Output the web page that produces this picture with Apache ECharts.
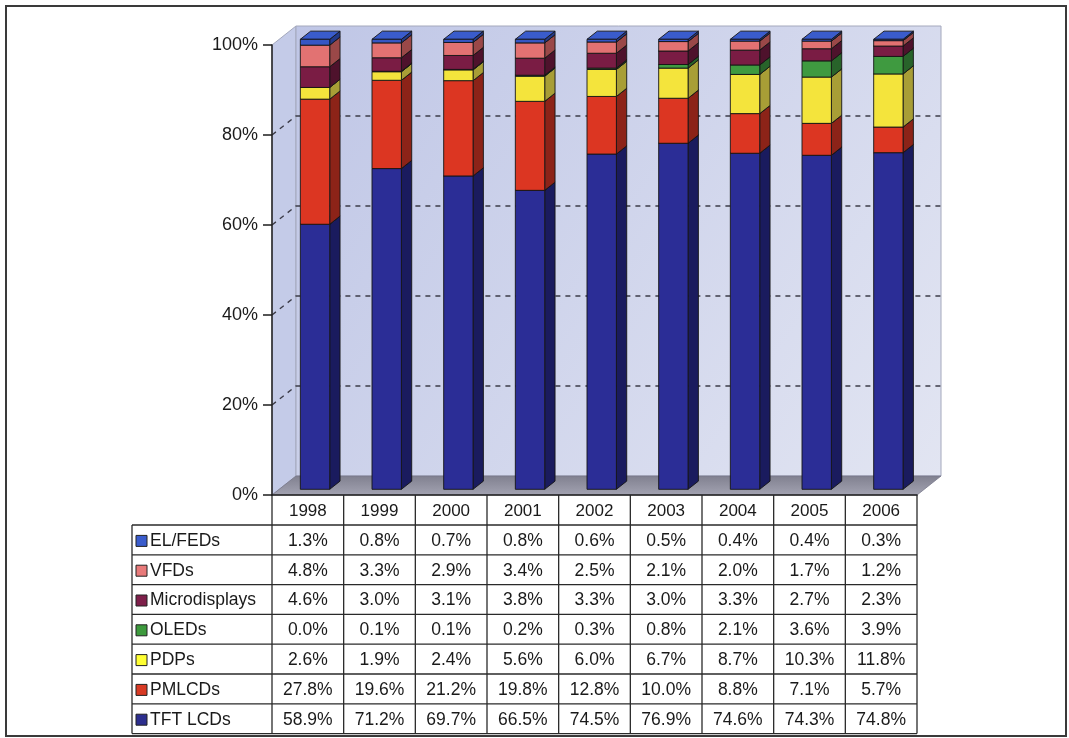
<!DOCTYPE html>
<html>
<head>
<meta charset="utf-8">
<script src="https://cdn.jsdelivr.net/npm/echarts@6/dist/echarts.min.js"></script>
<style>
  html, body { margin: 0; padding: 0; background: #ffffff; }
  #chart { width: 1069px; height: 738px; }
</style>
</head>
<body>
<div id="chart"></div>
<script>
// Flat-panel display technologies: share of market by year (percent)
const years = ['1998', '1999', '2000', '2001', '2002', '2003', '2004', '2005', '2006'];

const elFeds        = [1.3, 0.8, 0.7, 0.8, 0.6, 0.5, 0.4, 0.4, 0.3];
const vfds          = [4.8, 3.3, 2.9, 3.4, 2.5, 2.1, 2.0, 1.7, 1.2];
const microdisplays = [4.6, 3.0, 3.1, 3.8, 3.3, 3.0, 3.3, 2.7, 2.3];
const oleds         = [0.0, 0.1, 0.1, 0.2, 0.3, 0.8, 2.1, 3.6, 3.9];
const pdps          = [2.6, 1.9, 2.4, 5.6, 6.0, 6.7, 8.7, 10.3, 11.8];
const pmlcds        = [27.8, 19.6, 21.2, 19.8, 12.8, 10.0, 8.8, 7.1, 5.7];
const tftLcds       = [58.9, 71.2, 69.7, 66.5, 74.5, 76.9, 74.6, 74.3, 74.8];

// stacking order, bottom to top
const seriesNames  = ['TFT LCDs', 'PMLCDs', 'PDPs', 'OLEDs', 'Microdisplays', 'VFDs', 'EL/FEDs'];
const seriesValues = [tftLcds, pmlcds, pdps, oleds, microdisplays, vfds, elFeds];

// table row order, top to bottom
const tableNames  = ['EL/FEDs', 'VFDs', 'Microdisplays', 'OLEDs', 'PDPs', 'PMLCDs', 'TFT LCDs'];
const tableValues = [elFeds, vfds, microdisplays, oleds, pdps, pmlcds, tftLcds];

const shareTicks = [0, 20, 40, 60, 80, 100];

// ---- styling ----
const FONT = '"Liberation Sans", Arial, Helvetica, sans-serif';
const GRID = { left: 272, top: 45, width: 645, height: 450 };
const DEPTH = { dx: 24, dy: -19 };            // oblique depth of the plot box
const BAR = { ratio: 0.41, shift: 0.3, depth: 0.43 };

const palette = {
  'TFT LCDs':      { front: '#2b2d96', side: '#1a1b5e', top: '#3d40b4', key: '#2c2e8e' },
  'PMLCDs':        { front: '#dc3622', side: '#8c2318', top: '#e8604a', key: '#d83a24' },
  'PDPs':          { front: '#f4e43c', side: '#a89e36', top: '#f8ee80', key: '#ffff33' },
  'OLEDs':         { front: '#3f9a40', side: '#28632a', top: '#5cb45c', key: '#3d9a3d' },
  'Microdisplays': { front: '#7a1c44', side: '#4e122c', top: '#94305a', key: '#7e1f4a' },
  'VFDs':          { front: '#e27272', side: '#9a4848', top: '#ee9a9a', key: '#e87a7a' },
  'EL/FEDs':       { front: '#3556c4', side: '#23398a', top: '#3a5ccc', key: '#3a5ccc' }
};

// 100% stacking: each year normalised to its own total
const totals = years.map((_, i) => seriesValues.reduce((s, arr) => s + arr[i], 0));
const stacked = [];
{
  const base = years.map(() => 0);
  seriesValues.forEach((arr) => {
    stacked.push(arr.map((v, i) => {
      const share = v / totals[i] * 100;
      const item = [i, base[i], base[i] + share];
      base[i] += share;
      return item;
    }));
  });
}

// ---- plot box: side wall, back wall, floor and gridlines ----
function renderWall(params, api) {
  const cs = params.coordSys;
  const x0 = cs.x, x1 = cs.x + cs.width;
  const yT = api.coord([0, shareTicks[shareTicks.length - 1]])[1];
  const yB = api.coord([0, shareTicks[0]])[1];
  const dx = DEPTH.dx, dy = DEPTH.dy;
  const wallFill = new echarts.graphic.LinearGradient(0, 0, 1, 1, [
    { offset: 0, color: '#bfc6e6' },
    { offset: 1, color: '#e2e5f2' }
  ]);
  const children = [
    {
      type: 'polygon',
      shape: { points: [[x0, yB], [x0, yT], [x0 + dx, yT + dy], [x0 + dx, yB + dy]] },
      style: { fill: '#c4cbe8', stroke: '#a4a8bc', lineWidth: 1 }
    },
    {
      type: 'rect',
      shape: { x: x0 + dx, y: yT + dy, width: x1 - x0, height: yB - yT },
      style: { fill: wallFill, stroke: '#a4a8bc', lineWidth: 1 }
    },
    {
      type: 'polygon',
      shape: { points: [[x0, yB], [x0 + dx, yB + dy], [x1 + dx, yB + dy], [x1, yB]] },
      style: {
        fill: new echarts.graphic.LinearGradient(0, 0, 0, 1, [
          { offset: 0, color: '#80808f' },
          { offset: 1, color: '#a3a3b2' }
        ]),
        stroke: '#77778a', lineWidth: 0.8
      }
    }
  ];
  shareTicks.slice(1, -1).forEach((t) => {
    const y = api.coord([0, t])[1];
    children.push({
      type: 'polyline',
      shape: { points: [[x0, y], [x0 + dx, y + dy], [x1 + dx, y + dy]] },
      style: { stroke: '#3c3c48', lineWidth: 1.4, lineDash: [5, 5], fill: null }
    });
  });
  return { type: 'group', children };
}

// ---- 3-D column segments ----
function makeBarRender(name) {
  const c = palette[name];
  return function (params, api) {
    const cat = api.value(0), lo = api.value(1), hi = api.value(2);
    if (hi - lo <= 0.0001) return { type: 'group', children: [] };
    const pb = api.coord([cat, lo]);
    const pt = api.coord([cat, hi]);
    const band = api.size([1, 0])[0];
    const w = band * BAR.ratio;
    const ox = DEPTH.dx * BAR.shift, oy = DEPTH.dy * BAR.shift;
    const sx = DEPTH.dx * BAR.depth, sy = DEPTH.dy * BAR.depth;
    const xl = pb[0] - w / 2 + ox, xr = xl + w;
    const yb = pb[1] + oy, yt = pt[1] + oy;
    const edge = { stroke: '#151515', lineWidth: 0.9, lineJoin: 'round' };
    return {
      type: 'group',
      children: [
        {
          type: 'polygon',
          shape: { points: [[xr, yb], [xr, yt], [xr + sx, yt + sy], [xr + sx, yb + sy]] },
          style: Object.assign({ fill: c.side }, edge)
        },
        {
          type: 'polygon',
          shape: { points: [[xl, yt], [xl + sx, yt + sy], [xr + sx, yt + sy], [xr, yt]] },
          style: Object.assign({ fill: c.top }, edge)
        },
        {
          type: 'rect',
          shape: { x: xl, y: yt, width: w, height: yb - yt },
          style: Object.assign({ fill: c.front }, edge)
        }
      ]
    };
  };
}

// ---- data table under the plot ----
function buildTable() {
  const els = [];
  const band = GRID.width / years.length;
  const x0 = GRID.left, x1 = GRID.left + GRID.width;
  const headTop = GRID.top + GRID.height;
  const headBottom = headTop + 30;
  const rowH = 29.8;
  const legendLeft = 132;
  const tableBottom = headBottom + rowH * tableNames.length;
  const lineStyle = { stroke: '#2a2a2a', lineWidth: 1.3 };

  // horizontal rules
  els.push({ type: 'line', shape: { x1: legendLeft, y1: headBottom, x2: x1, y2: headBottom }, style: lineStyle });
  for (let r = 1; r <= tableNames.length; r++) {
    const y = headBottom + r * rowH;
    els.push({ type: 'line', shape: { x1: legendLeft, y1: y, x2: x1, y2: y }, style: lineStyle });
  }
  // vertical rules
  els.push({ type: 'line', shape: { x1: legendLeft, y1: headBottom, x2: legendLeft, y2: tableBottom }, style: lineStyle });
  for (let c = 0; c <= years.length; c++) {
    const x = x0 + c * band;
    els.push({ type: 'line', shape: { x1: x, y1: headTop, x2: x, y2: tableBottom }, style: lineStyle });
  }
  // year headings
  years.forEach((yr, i) => {
    els.push({
      type: 'text',
      style: {
        text: yr, x: x0 + (i + 0.5) * band, y: (headTop + headBottom) / 2 + 1,
        align: 'center', verticalAlign: 'middle',
        font: '17px ' + FONT, fill: '#1a1a1a'
      }
    });
  });
  // rows
  tableNames.forEach((name, r) => {
    const cy = headBottom + (r + 0.5) * rowH + 1;
    els.push({
      type: 'rect',
      shape: { x: legendLeft + 4, y: cy - 5.5, width: 11, height: 11 },
      style: { fill: palette[name].key, stroke: '#222', lineWidth: 1 }
    });
    els.push({
      type: 'text',
      style: {
        text: name, x: legendLeft + 18, y: cy,
        align: 'left', verticalAlign: 'middle',
        font: '17.5px ' + FONT, fill: '#1a1a1a'
      }
    });
    tableValues[r].forEach((v, i) => {
      els.push({
        type: 'text',
        style: {
          text: v.toFixed(1) + '%', x: x0 + (i + 0.5) * band, y: cy,
          align: 'center', verticalAlign: 'middle',
          font: '17.5px ' + FONT, fill: '#1a1a1a'
        }
      });
    });
  });
  // outer frame of the chart
  els.push({
    type: 'rect',
    shape: { x: 6, y: 6, width: 1060, height: 730 },
    style: { fill: null, stroke: '#3a3a3a', lineWidth: 2 }
  });
  return els;
}

const chart = echarts.init(document.getElementById('chart'), null, { renderer: 'canvas' });

const series = [
  {
    type: 'custom',
    name: 'wall',
    renderItem: renderWall,
    data: [[0, 0]],
    silent: true,
    z: 1
  }
].concat(seriesNames.map((name, k) => ({
  type: 'custom',
  name: name,
  renderItem: makeBarRender(name),
  encode: { x: 0, y: [1, 2] },
  data: stacked[k],
  z: 2 + k
})));

chart.setOption({
  animation: false,
  backgroundColor: '#ffffff',
  grid: GRID,
  xAxis: {
    type: 'category',
    data: years,
    boundaryGap: true,
    z: 20,
    axisLine: { show: true, lineStyle: { color: '#1e1e1e', width: 1.5 } },
    axisTick: { show: false },
    axisLabel: { show: false },
    splitLine: { show: false }
  },
  yAxis: {
    type: 'value',
    min: shareTicks[0],
    max: shareTicks[shareTicks.length - 1],
    interval: shareTicks[1] - shareTicks[0],
    z: 20,
    axisLine: { show: true, lineStyle: { color: '#1e1e1e', width: 1.5 } },
    axisTick: { show: true, inside: false, length: 9, lineStyle: { color: '#1e1e1e', width: 1.5 } },
    axisLabel: {
      formatter: '{value}%',
      fontSize: 18, fontFamily: FONT, color: '#1a1a1a', margin: 14
    },
    splitLine: { show: false }
  },
  series: series,
  graphic: buildTable()
});
</script>
</body>
</html>
